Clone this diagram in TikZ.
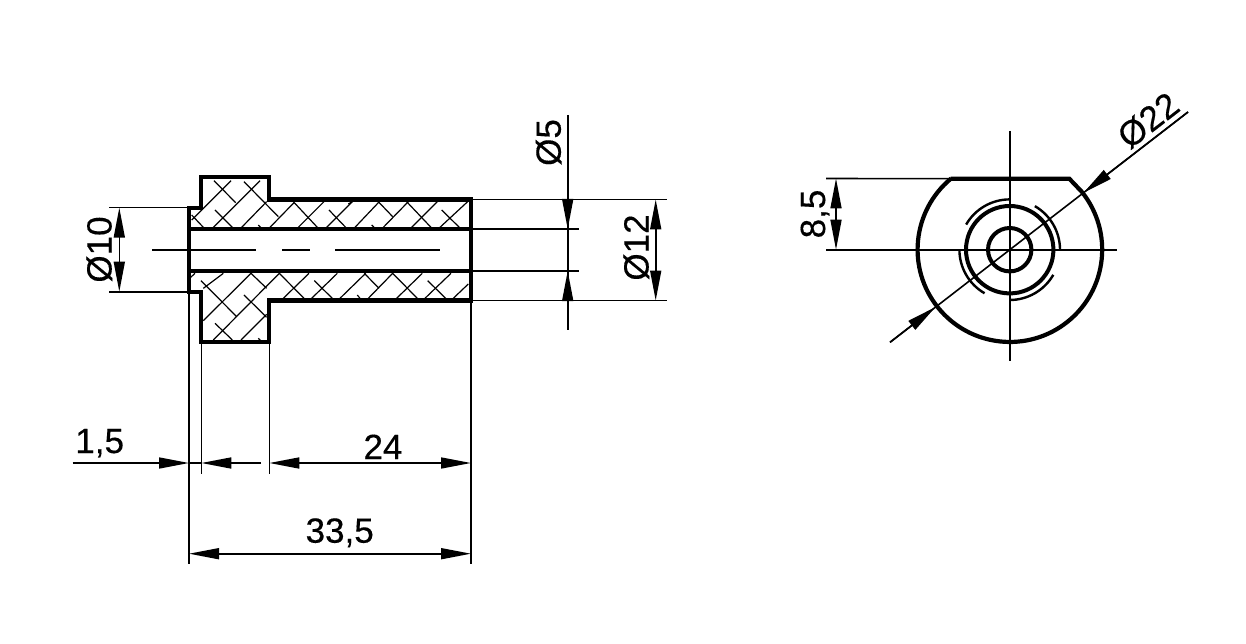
\documentclass[tikz,border=0pt]{standalone}
\usepackage{fontspec}
\setmainfont[FakeBold=0.35]{Liberation Sans}
\usetikzlibrary{arrows.meta,calc}
\tikzset{
  thinln/.style={line width=1.6pt,black},
  hatchln/.style={line width=1.2pt,black},
  outln/.style={line width=4.2pt,black,line join=miter},
  circln/.style={line width=4pt,black},
  threadln/.style={line width=2.4pt,black},
  dimtip/.style={-{Triangle[length=30pt,width=11pt]}},
  dimtips/.style={{Triangle[length=30pt,width=11pt]}-{Triangle[length=30pt,width=11pt]}},
  dimtext/.style={font=\fontsize{35}{35}\selectfont,inner sep=0pt,anchor=base,black}
}
\begin{document}
\begin{tikzpicture}[x=1pt,y=-1pt]
\useasboundingbox (0,0) rectangle (1246,644);
% named points of the section
\coordinate (fl) at (201.3,177.3);
\coordinate (fr) at (269.3,177.3);
\coordinate (sr) at (269.3,199.5);
\coordinate (er) at (471,199.5);
\coordinate (bt) at (471,229);
\coordinate (bb) at (471,270.7);
\coordinate (br) at (471,300.5);
\coordinate (sb) at (269.3,300.5);
\coordinate (fbr) at (269.3,342.3);
\coordinate (fbl) at (201.3,342.3);
\coordinate (stl) at (201.3,291.7);
\coordinate (lb) at (189,291.7);
\coordinate (lt) at (189,207.7);
\coordinate (stu) at (201.3,207.7);
\coordinate (lbt) at (189,229);
\coordinate (lbb) at (189,270.7);
% hatching (coordinates read on a 3x grid)
\begin{scope}[shift={(170,160)},x=0.3333pt,y=-0.3333pt,hatchln]
\foreach \a/\b/\c/\d in {
65/180/183/62,130/202/270/62,215/202/290/125,300/202/372/128,385/202/462/125,470/202/547/125,555/202/628/125,640/202/715/125,725/202/802/125,810/202/893/125,
132/62/197/128,222/65/325/170,65/165/100/202,135/150/187/202,265/195/272/202,370/125/442/202,477/150/527/202,535/132/547/125,605/195/612/202,625/125/668/170,710/125/783/202,815/150/868/202,
62/352/75/340,100/385/160/340,100/482/243/340,130/540/328/340,213/540/290/463,340/415/417/340,425/415/502/340,510/415/587/340,595/415/668/340,680/415/757/340,765/415/843/340,850/415/895/372,
93/362/200/470,243/340/290/385,222/405/290/472,135/490/187/540,265/535/272/542,328/340/402/415,433/362/487/415,562/405/570/415,583/340/627/385,668/340/742/415,773/362/827/415}
  {\draw (\a,\b) -- (\c,\d);}
\end{scope}
% section outline
\draw[outln] (fl) -- (fr) -- (sr) -- (er) -- (br) -- (sb) -- (fbr) -- (fbl) -- (stl) -- (lb) -- (lt) -- (stu) -- cycle;
\draw[outln] (lbt) -- (bt);
\draw[outln] (lbb) -- (bb);
% centre line
\coordinate (c0) at (152,250);\coordinate (c1) at (256,250);
\coordinate (c2) at (282,250);\coordinate (c3) at (309.7,250);
\coordinate (c4) at (335,250);\coordinate (c5) at (440,250);
\draw[thinln] (c0)--(c1) (c2)--(c3) (c4)--(c5);
% diameter 10
\coordinate (d10a) at (109,207.7);\coordinate (d10b) at (109,291.7);
\coordinate (d10t) at (119.3,207.7);\coordinate (d10u) at (119.3,291.7);
\draw[thinln] (d10a)--(lt) (d10b)--(lb);
\draw[thinln,dimtips] (d10t)--(d10u);
\node[dimtext,rotate=90] (t10) at (111.5,249.5) {Ø10};
% diameters 5 and 12
\coordinate (e1) at (667,199.5);\coordinate (e2) at (667,300.5);
\coordinate (e3) at (578.7,229);\coordinate (e4) at (578.7,270.7);
\draw[thinln] (er)--(e1) (br)--(e2) (bt)--(e3) (bb)--(e4);
\coordinate (d5t) at (567.7,115);\coordinate (d5a) at (567.7,229);
\coordinate (d5b) at (567.7,271);\coordinate (d5e) at (567.7,330);
\coordinate (d5u) at (567.7,199.5);\coordinate (d5l) at (567.7,300.5);
\draw[thinln] (d5t)--(d5e);
\draw[thinln,dimtip] (d5u)--(d5a);
\draw[thinln,dimtip] (d5l)--(d5b);
\node[dimtext,rotate=90] (t5) at (560.7,142.5) {Ø5};
\coordinate (d12a) at (655.7,199.5);\coordinate (d12b) at (655.7,300.5);
\draw[thinln,dimtips] (d12a)--(d12b);
\node[dimtext,rotate=90] (t12) at (648.5,247.5) {Ø12};
% lower extension lines
\coordinate (x1) at (189,564);\coordinate (x2) at (201.3,474);
\coordinate (x3) at (269.3,474);\coordinate (x4) at (471,564);
\draw[thinln] (lb)--(x1) (fbl)--(x2) (fbr)--(x3) (br)--(x4);
% lower dimensions
\coordinate (a0) at (72.7,463);\coordinate (a1) at (189,463);
\coordinate (a2) at (261,463);\coordinate (a3) at (201.3,463);
\coordinate (a4) at (269.3,463);\coordinate (a5) at (471,463);
\coordinate (a6) at (189,553.7);\coordinate (a7) at (471,553.7);
\draw[thinln,dimtip] (a0)--(a1);
\draw[thinln] (a1)--(a3);
\draw[thinln,dimtip] (a2)--(a3);
\draw[thinln,dimtips] (a4)--(a5);
\draw[thinln,dimtips] (a6)--(a7);
\node[dimtext] (t15) at (99.7,453) {1,5};
\node[dimtext] (t24) at (383,459) {24};
\node[dimtext] (t33) at (339.7,542.7) {33,5};
% end view
\coordinate (o) at (1009.7,249.7);
\coordinate (tl) at (950.5,178.7);
\coordinate (tr) at (1069.3,178.7);
\coordinate (ch) at (1081.7,191.7);
\draw[outln] (tl) -- (tr) -- (ch) arc[start angle=-38.9,end angle=230.4,radius=92.3];
\draw[circln] (o) circle[radius=43.7];
\draw[circln] (o) circle[radius=21.7];
\foreach \s in {0,90,180,270}
  \draw[threadln] ($(o)+(-\s:50.3)$) arc[start angle=-\s,delta angle=-60,radius=50.3];
% centre lines of the end view
\coordinate (h0) at (826,249.7);\coordinate (h1) at (1116.7,249.7);
\coordinate (v0) at (1009.7,131);\coordinate (v1) at (1009.7,361);
\draw[thinln] (h0)--(h1) (v0)--(v1);
% dimension 8,5
\coordinate (h2) at (826,178.5);
\coordinate (d8a) at (836,178.5);\coordinate (d8b) at (836,249.7);
\draw[thinln] (h2)--(tl);
\draw[thinln,dimtips] (d8a)--(d8b);
\node[dimtext,rotate=90] (t8) at (825,214) {8,5};
% dimension 22
\coordinate (q0) at (890,342.3);\coordinate (q1) at (1188,112);
\coordinate (qa) at (935.5,307);\coordinate (qb) at (1083.5,192.8);
\draw[thinln] (q0)--(q1);
\draw[thinln,dimtip] (q0)--(qa);
\draw[thinln,dimtip] (q1)--(qb);
\node[dimtext,rotate=37.7] (t22) at (1155.6,129.9) {Ø22};
\end{tikzpicture}
\end{document}
